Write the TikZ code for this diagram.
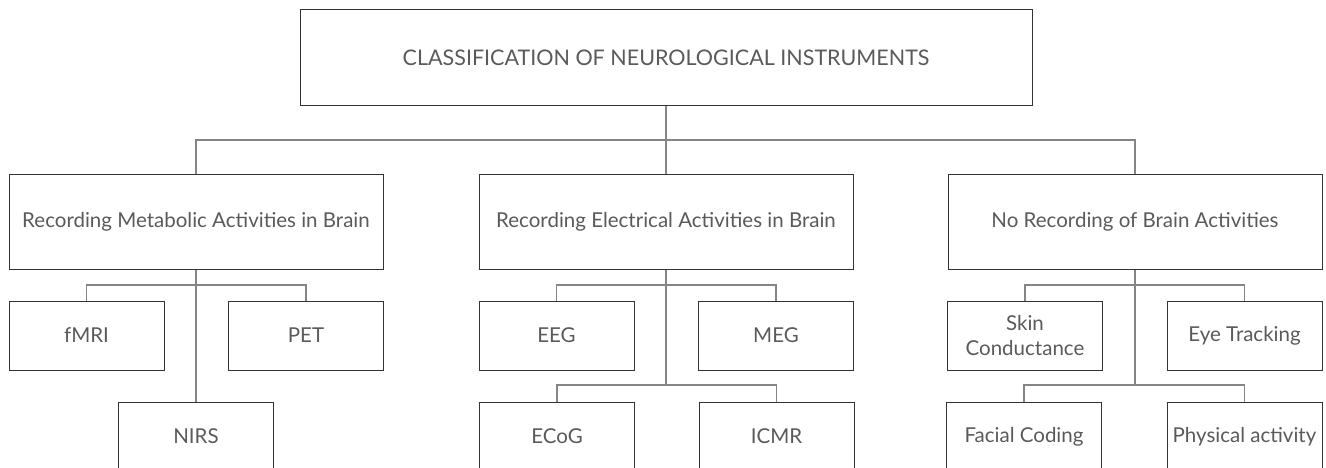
\documentclass[tikz,border=0pt]{standalone}
\usepackage{fontspec}
\setmainfont{Lato}
\definecolor{txt}{HTML}{5A5A5A}
\definecolor{edge}{HTML}{333333}
\definecolor{conn}{HTML}{858585}
\begin{document}
\begin{tikzpicture}[x=1pt,y=-1pt,
  box/.style={draw=edge,line width=1pt,inner sep=0pt,text=txt,align=center,
    font=\fontsize{20.5}{25}\selectfont},
  connline/.style={draw=conn,line width=1.2pt}]
\clip (0,0) rectangle (1326,468);
\useasboundingbox (0,0) rectangle (1326,468);
% top
\node[box,minimum width=732pt,minimum height=96pt,font=\fontsize{21.5}{25}\selectfont] (top) at (666,58) {CLASSIFICATION OF NEUROLOGICAL INSTRUMENTS};
% level 1
\node[box,minimum width=374pt,minimum height=94pt] (b1) at (196,222) {Recording Metabolic Activities in Brain};
\node[box,minimum width=374pt,minimum height=94pt] (b2) at (666,222) {Recording Electrical Activities in Brain};
\node[box,minimum width=374pt,minimum height=94pt] (b3) at (1135,222) {No Recording of Brain Activities};
% level 2
\tikzset{leaf/.style={box,minimum width=155pt,minimum height=69pt}}
\node[leaf] (fmri) at (86.5,335.5) {fMRI};
\node[leaf] (pet) at (306,335.5) {PET};
\node[leaf] (eeg) at (556.5,335.5) {EEG};
\node[leaf] (meg) at (776,335.5) {MEG};
\node[leaf] (skin) at (1025,335.5) {Skin\\Conductance};
\node[leaf] (eye) at (1244.5,335.5) {Eye Tracking};
% level 3
\node[leaf] (nirs) at (196,436.5) {NIRS};
\node[leaf] (ecog) at (557,436.5) {ECoG};
\node[leaf] (icmr) at (776.5,436.5) {ICMR};
\node[leaf] (facial) at (1024,436.5) {Facial Coding};
\node[leaf] (phys) at (1244.5,436.5) {Physical activity};
% junctions
\coordinate (j0) at (666,140);
\coordinate (j1) at (196,285);
\coordinate (j2) at (666,285);
\coordinate (j3) at (1135,285);
\coordinate (k2) at (666,385);
\coordinate (k3) at (1135,385);
% connectors
\draw[connline] (top.south) -- (j0);
\draw[connline] (b1.north) -- (b1.north |- j0) -- (b3.north |- j0) -- (b3.north);
\draw[connline] (j0) -- (b2.north);
\draw[connline] (b1.south) -- (nirs.north);
\draw[connline] (fmri.north) -- (fmri.north |- j1) -- (pet.north |- j1) -- (pet.north);
\draw[connline] (b2.south) -- (k2);
\draw[connline] (eeg.north) -- (eeg.north |- j2) -- (meg.north |- j2) -- (meg.north);
\draw[connline] (ecog.north) -- (ecog.north |- k2) -- (icmr.north |- k2) -- (icmr.north);
\draw[connline] (b3.south) -- (k3);
\draw[connline] (skin.north) -- (skin.north |- j3) -- (eye.north |- j3) -- (eye.north);
\draw[connline] (facial.north) -- (facial.north |- k3) -- (phys.north |- k3) -- (phys.north);
\end{tikzpicture}
\end{document}
